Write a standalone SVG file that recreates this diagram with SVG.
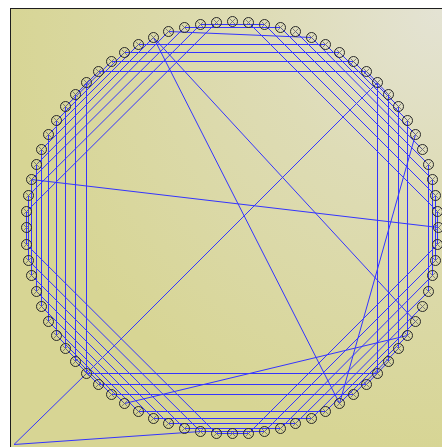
<svg xmlns="http://www.w3.org/2000/svg" width="442" height="447" viewBox="0 0 442 447">
<defs>
<radialGradient id="bg" gradientUnits="userSpaceOnUse" cx="440" cy="10" r="440">
<stop offset="0" stop-color="#e4e3d4"/>
<stop offset="0.4" stop-color="#dedcb6"/>
<stop offset="1" stop-color="#d7d594"/>
</radialGradient>
<g id="nd"><circle r="5" fill="none" stroke="#2a2a2a" stroke-width="1"/><path d="M-3,-3L3,3M-3,3L3,-3" stroke="#6a6a6a" stroke-width="0.8" fill="none"/></g>
</defs>
<style>
.e line{stroke:#3434ff;stroke-width:1;fill:none}
</style>
<rect x="0" y="0" width="442" height="447" fill="#ffffff"/>
<rect x="10.5" y="8.5" width="440" height="445" fill="url(#bg)" stroke="#1e1e1e" stroke-width="1"/>
<g transform="translate(0.5,0.5)">
<g id="connectors" class="e">
<line x1="200" y1="24" x2="264" y2="24"/>
<line x1="184" y1="27" x2="280" y2="27"/>
<line x1="168" y1="31" x2="311" y2="37"/>
<line x1="138" y1="44" x2="325" y2="44"/>
<line x1="124" y1="52" x2="339" y2="52"/>
<line x1="111" y1="61" x2="353" y2="61"/>
<line x1="98" y1="71" x2="366" y2="71"/>
<line x1="366" y1="71" x2="388" y2="94"/>
<line x1="353" y1="61" x2="398" y2="106"/>
<line x1="339" y1="52" x2="407" y2="120"/>
<line x1="325" y1="44" x2="415" y2="134"/>
<line x1="311" y1="37" x2="422" y2="149"/>
<line x1="295" y1="31" x2="428" y2="164"/>
<line x1="280" y1="27" x2="432" y2="179"/>
<line x1="264" y1="24" x2="435" y2="195"/>
<line x1="248" y1="22" x2="437" y2="211"/>
<line x1="437" y1="211" x2="437" y2="244"/>
<line x1="435" y1="195" x2="435" y2="260"/>
<line x1="432" y1="179" x2="432" y2="275"/>
<line x1="428" y1="164" x2="428" y2="291"/>
<line x1="407" y1="120" x2="407" y2="335"/>
<line x1="398" y1="106" x2="398" y2="348"/>
<line x1="388" y1="94" x2="388" y2="361"/>
<line x1="377" y1="82" x2="377" y2="373"/>
<line x1="388" y1="361" x2="366" y2="384"/>
<line x1="398" y1="348" x2="353" y2="394"/>
<line x1="407" y1="335" x2="339" y2="403"/>
<line x1="415" y1="321" x2="325" y2="411"/>
<line x1="422" y1="306" x2="311" y2="418"/>
<line x1="428" y1="291" x2="295" y2="423"/>
<line x1="432" y1="275" x2="280" y2="428"/>
<line x1="435" y1="260" x2="264" y2="431"/>
<line x1="437" y1="244" x2="248" y2="433"/>
<line x1="248" y1="433" x2="216" y2="433"/>
<line x1="264" y1="431" x2="200" y2="431"/>
<line x1="280" y1="428" x2="184" y2="428"/>
<line x1="295" y1="423" x2="168" y2="423"/>
<line x1="311" y1="418" x2="153" y2="418"/>
<line x1="325" y1="411" x2="138" y2="411"/>
<line x1="353" y1="394" x2="111" y2="394"/>
<line x1="366" y1="384" x2="98" y2="384"/>
<line x1="377" y1="373" x2="86" y2="373"/>
<line x1="98" y1="384" x2="75" y2="361"/>
<line x1="111" y1="394" x2="65" y2="348"/>
<line x1="124" y1="403" x2="56" y2="335"/>
<line x1="138" y1="411" x2="48" y2="321"/>
<line x1="153" y1="418" x2="41" y2="306"/>
<line x1="168" y1="423" x2="36" y2="291"/>
<line x1="184" y1="428" x2="31" y2="275"/>
<line x1="200" y1="431" x2="28" y2="260"/>
<line x1="216" y1="433" x2="26" y2="244"/>
<line x1="26" y1="244" x2="26" y2="211"/>
<line x1="28" y1="260" x2="28" y2="195"/>
<line x1="31" y1="275" x2="31" y2="179"/>
<line x1="36" y1="291" x2="36" y2="164"/>
<line x1="41" y1="306" x2="41" y2="149"/>
<line x1="48" y1="321" x2="48" y2="134"/>
<line x1="56" y1="335" x2="56" y2="120"/>
<line x1="65" y1="348" x2="65" y2="106"/>
<line x1="75" y1="361" x2="75" y2="94"/>
<line x1="86" y1="373" x2="86" y2="82"/>
<line x1="75" y1="94" x2="98" y2="71"/>
<line x1="65" y1="106" x2="111" y2="61"/>
<line x1="56" y1="120" x2="124" y2="52"/>
<line x1="48" y1="134" x2="138" y2="44"/>
<line x1="41" y1="149" x2="153" y2="37"/>
<line x1="36" y1="164" x2="168" y2="31"/>
<line x1="31" y1="179" x2="184" y2="27"/>
<line x1="28" y1="195" x2="200" y2="24"/>
<line x1="26" y1="211" x2="216" y2="22"/>
<line x1="31" y1="179" x2="438" y2="227"/>
<line x1="153" y1="37" x2="339" y2="403"/>
<line x1="153" y1="37" x2="415" y2="321"/>
<line x1="377" y1="82" x2="86" y2="373"/>
<line x1="415" y1="134" x2="339" y2="403"/>
<line x1="124" y1="403" x2="407" y2="335"/>
<line x1="13.5" y1="444" x2="86" y2="373"/>
<line x1="13.5" y1="444" x2="200" y2="431"/>
</g>
<g id="nodes">
<g id="n0"><use href="#nd" x="232" y="21"/></g>
<g id="n1"><use href="#nd" x="248" y="22"/></g>
<g id="n2"><use href="#nd" x="264" y="24"/></g>
<g id="n3"><use href="#nd" x="280" y="27"/></g>
<g id="n4"><use href="#nd" x="295" y="31"/></g>
<g id="n5"><use href="#nd" x="311" y="37"/></g>
<g id="n6"><use href="#nd" x="325" y="44"/></g>
<g id="n7"><use href="#nd" x="339" y="52"/></g>
<g id="n8"><use href="#nd" x="353" y="61"/></g>
<g id="n9"><use href="#nd" x="366" y="71"/></g>
<g id="n10"><use href="#nd" x="377" y="82"/></g>
<g id="n11"><use href="#nd" x="388" y="94"/></g>
<g id="n12"><use href="#nd" x="398" y="106"/></g>
<g id="n13"><use href="#nd" x="407" y="120"/></g>
<g id="n14"><use href="#nd" x="415" y="134"/></g>
<g id="n15"><use href="#nd" x="422" y="149"/></g>
<g id="n16"><use href="#nd" x="428" y="164"/></g>
<g id="n17"><use href="#nd" x="432" y="179"/></g>
<g id="n18"><use href="#nd" x="435" y="195"/></g>
<g id="n19"><use href="#nd" x="437" y="211"/></g>
<g id="n20"><use href="#nd" x="438" y="227"/></g>
<g id="n21"><use href="#nd" x="437" y="244"/></g>
<g id="n22"><use href="#nd" x="435" y="260"/></g>
<g id="n23"><use href="#nd" x="432" y="275"/></g>
<g id="n24"><use href="#nd" x="428" y="291"/></g>
<g id="n25"><use href="#nd" x="422" y="306"/></g>
<g id="n26"><use href="#nd" x="415" y="321"/></g>
<g id="n27"><use href="#nd" x="407" y="335"/></g>
<g id="n28"><use href="#nd" x="398" y="348"/></g>
<g id="n29"><use href="#nd" x="388" y="361"/></g>
<g id="n30"><use href="#nd" x="377" y="373"/></g>
<g id="n31"><use href="#nd" x="366" y="384"/></g>
<g id="n32"><use href="#nd" x="353" y="394"/></g>
<g id="n33"><use href="#nd" x="339" y="403"/></g>
<g id="n34"><use href="#nd" x="325" y="411"/></g>
<g id="n35"><use href="#nd" x="311" y="418"/></g>
<g id="n36"><use href="#nd" x="295" y="423"/></g>
<g id="n37"><use href="#nd" x="280" y="428"/></g>
<g id="n38"><use href="#nd" x="264" y="431"/></g>
<g id="n39"><use href="#nd" x="248" y="433"/></g>
<g id="n40"><use href="#nd" x="232" y="433"/></g>
<g id="n41"><use href="#nd" x="216" y="433"/></g>
<g id="n42"><use href="#nd" x="200" y="431"/></g>
<g id="n43"><use href="#nd" x="184" y="428"/></g>
<g id="n44"><use href="#nd" x="168" y="423"/></g>
<g id="n45"><use href="#nd" x="153" y="418"/></g>
<g id="n46"><use href="#nd" x="138" y="411"/></g>
<g id="n47"><use href="#nd" x="124" y="403"/></g>
<g id="n48"><use href="#nd" x="111" y="394"/></g>
<g id="n49"><use href="#nd" x="98" y="384"/></g>
<g id="n50"><use href="#nd" x="86" y="373"/></g>
<g id="n51"><use href="#nd" x="75" y="361"/></g>
<g id="n52"><use href="#nd" x="65" y="348"/></g>
<g id="n53"><use href="#nd" x="56" y="335"/></g>
<g id="n54"><use href="#nd" x="48" y="321"/></g>
<g id="n55"><use href="#nd" x="41" y="306"/></g>
<g id="n56"><use href="#nd" x="36" y="291"/></g>
<g id="n57"><use href="#nd" x="31" y="275"/></g>
<g id="n58"><use href="#nd" x="28" y="260"/></g>
<g id="n59"><use href="#nd" x="26" y="244"/></g>
<g id="n60"><use href="#nd" x="26" y="227"/></g>
<g id="n61"><use href="#nd" x="26" y="211"/></g>
<g id="n62"><use href="#nd" x="28" y="195"/></g>
<g id="n63"><use href="#nd" x="31" y="179"/></g>
<g id="n64"><use href="#nd" x="36" y="164"/></g>
<g id="n65"><use href="#nd" x="41" y="149"/></g>
<g id="n66"><use href="#nd" x="48" y="134"/></g>
<g id="n67"><use href="#nd" x="56" y="120"/></g>
<g id="n68"><use href="#nd" x="65" y="106"/></g>
<g id="n69"><use href="#nd" x="75" y="94"/></g>
<g id="n70"><use href="#nd" x="86" y="82"/></g>
<g id="n71"><use href="#nd" x="98" y="71"/></g>
<g id="n72"><use href="#nd" x="111" y="61"/></g>
<g id="n73"><use href="#nd" x="124" y="52"/></g>
<g id="n74"><use href="#nd" x="138" y="44"/></g>
<g id="n75"><use href="#nd" x="153" y="37"/></g>
<g id="n76"><use href="#nd" x="168" y="31"/></g>
<g id="n77"><use href="#nd" x="184" y="27"/></g>
<g id="n78"><use href="#nd" x="200" y="24"/></g>
<g id="n79"><use href="#nd" x="216" y="22"/></g>
</g>
</g>
</svg>
